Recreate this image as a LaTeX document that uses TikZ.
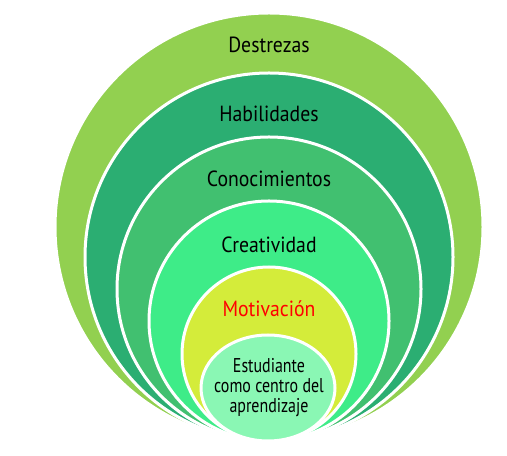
\documentclass[tikz,border=0pt]{standalone}
\usepackage{fontspec}
\setmainfont[FakeStretch=0.8]{PT Sans}
\newfontfamily\lblfont[FakeStretch=0.9]{PT Sans}
\usepackage{xcolor}
\definecolor{destrezas}{HTML}{92D050}
\definecolor{habilid}{HTML}{2BAE72}
\definecolor{conocim}{HTML}{41C070}
\definecolor{creativ}{HTML}{3EEC88}
\definecolor{motivac}{HTML}{D4EC3A}
\definecolor{estud}{HTML}{8AF7B4}

\begin{document}
\begin{tikzpicture}[x=1bp,y=1bp,ring/.style={draw=white,line width=3bp},lbl/.style={font=\lblfont\fontsize{22}{24}\selectfont,anchor=base}]
\useasboundingbox (0,0) rectangle (507,456);
\draw[ring,fill=destrezas](269,229) circle (214);
\draw[ring,fill=habilid](269,199) circle (184);
\draw[ring,fill=conocim](269,167) circle (152);
\draw[ring,fill=creativ](269,135) circle (120);
\draw[ring,fill=motivac](269,102) circle (87);
\draw[ring,fill=estud](268,68) ellipse (67 and 53);
\node (destr) at (269,403.3) [lbl]{Destrezas};
\node (habil) at (269,334) [lbl]{Habilidades};
\node (conoc) at (269,269) [lbl]{Conocimientos};
\node (creat) at (269,203) [lbl]{Creatividad};
\node (motiv) at (269,139) [lbl,text=red]{Motivación};
\node (estud) at (269,68.5) [font=\fontsize{20}{20.3}\selectfont,align=center,inner sep=0pt]{Estudiante\\como centro del\\aprendizaje};
\end{tikzpicture}
\end{document}
